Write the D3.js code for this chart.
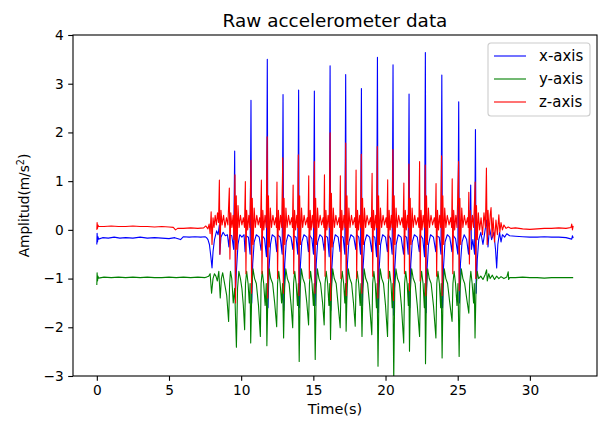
<!DOCTYPE html>
<html>
<head>
<meta charset="utf-8">
<script src="https://cdn.jsdelivr.net/npm/d3@7/dist/d3.min.js"></script>
<style>
  body { margin: 0; background: #fff; }
  svg { font-family: "DejaVu Sans", sans-serif; }
</style>
</head>
<body>
<svg id="chart" width="603" height="423"></svg>
<script>
// series labels and colours
var seriesNames = ["x-axis", "y-axis", "z-axis"];
var seriesColors = ["#0000ff", "#008000", "#ff0000"];

var xTicks = [0, 5, 10, 15, 20, 25, 30];
var yTicks = [-3, -2, -1, 0, 1, 2, 3, 4];

// [time (s), amplitude]
var xAxisData = [
  [0,-0.3],[0.02,-0.07],[0.05,-0.25],[0.08,-0.14],[0.12,-0.19],[0.4,-0.16],[0.8,-0.17],[1.2,-0.15],[1.6,-0.17],[2,-0.16],
  [2.5,-0.17],[3,-0.15],[3.5,-0.17],[4,-0.16],[4.5,-0.17],[5,-0.18],[5.4,-0.16],[5.8,-0.2],[6.0,-0.14],[6.4,-0.15],
  [6.8,-0.14],[7.2,-0.15],[7.5,-0.14],[7.6,-0.16],
  [7.7,-0.2],[7.8,-0.3],[7.9,-0.55],[7.98,-0.78],[8.05,-0.45],[8.15,-0.2],[8.3,-0.02],[8.4,-0.1],[8.49,0.1],[8.52,-0.5],
  [8.6,-0.15],[8.75,-0.05],[8.9,-0.12],[9.05,-0.1],[9.15,-0.35],[9.2,-0.1],[9.35,-0.12],[9.48,-0.4],[9.55,1.62],[9.6,-1.3],
  [9.68,-0.8],[9.78,-0.3],[9.9,-0.1],[10.05,-0.15],[10.2,-0.1],[10.27,-0.45],[10.33,-0.12],[10.5,-0.15],[10.62,-0.5],[10.68,2.66],
  [10.73,-1.5],[10.8,-0.7],[10.9,-0.25],[11.05,-0.1],[11.25,-0.15],[11.38,-0.42],[11.45,-0.12],[11.62,-0.18],[11.75,-0.55],[11.81,3.5],
  [11.86,-1.6],[11.93,-0.8],[12.03,-0.3],[12.15,-0.1],[12.35,-0.15],[12.46,-0.45],[12.52,-0.1],[12.7,-0.15],[12.84,-0.5],[12.9,2.78],
  [12.95,-1.65],[13.02,-0.7],[13.12,-0.25],[13.25,-0.1],[13.45,-0.15],[13.58,-0.4],[13.64,-0.12],[13.8,-0.15],[13.92,-0.5],[13.98,2.87],
  [14.03,-1.6],[14.1,-0.75],[14.2,-0.25],[14.35,-0.1],[14.55,-0.15],[14.66,-0.45],[14.72,-0.1],[14.9,-0.18],[15.01,-0.5],[15.07,2.85],
  [15.12,-1.55],[15.2,-0.7],[15.3,-0.25],[15.45,-0.1],[15.62,-0.15],[15.75,-0.42],[15.8,-0.12],[15.98,-0.15],[16.1,-0.55],[16.16,3.37],
  [16.21,-1.65],[16.28,-0.8],[16.38,-0.3],[16.52,-0.1],[16.72,-0.15],[16.85,-0.45],[16.9,-0.12],[17.06,-0.15],[17.18,-0.5],[17.24,3.19],
  [17.29,-1.5],[17.36,-0.7],[17.46,-0.25],[17.6,-0.1],[17.8,-0.15],[17.94,-0.4],[17.99,-0.1],[18.15,-0.15],[18.27,-0.5],[18.33,2.9],
  [18.38,-1.55],[18.45,-0.75],[18.55,-0.25],[18.7,-0.1],[18.9,-0.15],[19.05,-0.45],[19.1,-0.12],[19.26,-0.15],[19.38,-0.55],[19.44,3.54],
  [19.49,-1.7],[19.56,-0.8],[19.66,-0.3],[19.8,-0.1],[20.0,-0.15],[20.13,-0.45],[20.18,-0.1],[20.35,-0.18],[20.46,-0.5],[20.52,3.39],
  [20.57,-1.75],[20.64,-0.8],[20.74,-0.3],[20.88,-0.1],[21.08,-0.15],[21.25,-0.5],[21.3,-0.12],[21.46,-0.15],[21.57,-0.5],[21.63,2.79],
  [21.68,-1.6],[21.75,-0.7],[21.85,-0.25],[22.0,-0.1],[22.2,-0.15],[22.34,-0.45],[22.4,-0.1],[22.58,-0.18],[22.7,-0.55],[22.76,3.64],
  [22.81,-1.7],[22.88,-0.8],[22.98,-0.3],[23.12,-0.1],[23.32,-0.15],[23.48,-0.45],[23.53,-0.12],[23.72,-0.15],[23.84,-0.5],[23.9,3.18],
  [23.95,-1.6],[24.02,-0.75],[24.12,-0.25],[24.28,-0.1],[24.45,-0.15],[24.6,-0.45],[24.65,-0.1],[24.85,-0.18],[25.01,-0.5],[25.07,2.63],
  [25.12,-1.5],[25.19,-0.7],[25.3,-0.25],[25.45,-0.1],[25.62,-0.2],[25.75,-0.5],[25.82,-0.1],[25.9,0.92],[25.95,-0.4],[26.05,-0.2],
  [26.17,-0.5],[26.23,2.06],[26.28,-1.3],[26.36,-0.6],[26.46,-0.2],[26.6,-0.05],[26.75,-0.3],[26.9,0.0],[27.0,0.2],[27.1,-0.35],
  [27.2,0.05],[27.35,-0.2],[27.5,-0.05],[27.62,-0.4],[27.7,-0.78],[27.78,-0.3],[27.9,-0.05],[28.0,-0.25],[28.1,-0.1],[28.25,-0.15],
  [28.4,-0.08],[28.6,-0.12],[29,-0.13],[29.5,-0.14],[30,-0.15],[30.5,-0.15],[31,-0.14],[31.5,-0.15],[32,-0.15],[32.5,-0.16],
  [32.9,-0.19],[32.95,-0.12],[33,-0.17]
];

var yAxisData = [
  [0,-1.13],[0.02,-0.88],[0.05,-1.05],[0.08,-0.95],[0.12,-0.99],[0.5,-0.97],[1,-0.98],[1.5,-0.97],[2,-0.98],[2.5,-0.97],
  [3,-0.98],[3.5,-0.97],[4,-0.98],[4.5,-0.98],[5,-0.97],[5.5,-0.98],[6,-0.97],[6.5,-0.98],[7,-0.97],[7.5,-0.98],[7.6,-0.97],
  [7.75,-0.95],[7.85,-0.9],[7.95,-1.3],[8.05,-1.0],[8.15,-0.9],[8.25,-0.95],[8.35,-1.05],[8.45,-0.85],[8.55,-1.4],[8.63,-1.0],
  [8.72,-0.88],[8.85,-1.1],[9.0,-1.35],[9.13,-1.88],[9.2,-1.1],[9.26,-0.85],[9.35,-1.0],[9.45,-1.5],[9.55,-1.2],[9.67,-2.41],
  [9.75,-1.2],[9.84,-0.85],[9.95,-1.0],[10.05,-1.2],[10.15,-1.55],[10.24,-2.05],[10.3,-1.1],[10.38,-0.85],[10.48,-1.1],[10.56,-1.5],
  [10.62,-1.1],[10.66,-2.32],[10.74,-1.2],[10.82,-0.8],[10.93,-1.0],[11.05,-1.1],[11.2,-1.55],[11.33,-2.19],[11.38,-1.1],[11.46,-0.85],
  [11.56,-1.1],[11.66,-1.55],[11.74,-1.1],[11.78,-2.38],[11.86,-1.2],[11.94,-0.8],[12.05,-1.0],[12.18,-1.1],[12.32,-1.5],[12.46,-1.99],
  [12.52,-1.1],[12.6,-0.85],[12.7,-1.1],[12.8,-1.5],[12.87,-1.1],[12.94,-2.22],[13.01,-1.2],[13.09,-0.8],[13.2,-1.0],[13.32,-1.1],
  [13.46,-1.55],[13.57,-2.01],[13.63,-1.1],[13.71,-0.85],[13.81,-1.1],[13.9,-1.55],[13.96,-1.1],[14.02,-2.7],[14.09,-1.2],[14.17,-0.8],
  [14.28,-1.0],[14.4,-1.1],[14.55,-1.5],[14.67,-1.95],[14.73,-1.1],[14.81,-0.85],[14.91,-1.1],[15.0,-1.55],[15.06,-1.1],[15.13,-2.66],
  [15.2,-1.2],[15.28,-0.8],[15.39,-1.0],[15.5,-1.1],[15.64,-1.5],[15.75,-1.95],[15.81,-1.1],[15.89,-0.85],[15.99,-1.1],[16.08,-1.55],
  [16.14,-1.1],[16.19,-2.25],[16.26,-1.2],[16.34,-0.8],[16.45,-1.0],[16.58,-1.1],[16.72,-1.55],[16.86,-2.01],[16.92,-1.1],[17.0,-0.85],
  [17.1,-1.1],[17.18,-1.5],[17.23,-1.1],[17.27,-2.08],[17.34,-1.2],[17.42,-0.8],[17.53,-1.0],[17.65,-1.1],[17.78,-1.5],[17.9,-1.98],
  [17.96,-1.1],[18.04,-0.85],[18.14,-1.1],[18.24,-1.55],[18.3,-1.1],[18.37,-2.19],[18.44,-1.2],[18.52,-0.8],[18.63,-1.0],[18.76,-1.1],
  [18.9,-1.55],[19.05,-2.15],[19.11,-1.1],[19.19,-0.85],[19.29,-1.1],[19.37,-1.6],[19.42,-1.1],[19.48,-2.8],[19.55,-1.2],[19.63,-0.8],
  [19.74,-1.0],[19.86,-1.1],[20.0,-1.55],[20.14,-2.19],[20.2,-1.1],[20.28,-0.85],[20.38,-1.1],[20.46,-1.6],[20.51,-1.1],[20.57,-3.1],
  [20.64,-1.2],[20.72,-0.8],[20.83,-1.0],[20.96,-1.1],[21.1,-1.55],[21.26,-2.32],[21.32,-1.1],[21.4,-0.85],[21.5,-1.1],[21.58,-1.55],
  [21.62,-1.1],[21.66,-2.49],[21.73,-1.2],[21.81,-0.8],[21.92,-1.0],[22.05,-1.1],[22.2,-1.55],[22.36,-2.19],[22.42,-1.1],[22.5,-0.85],
  [22.6,-1.1],[22.69,-1.6],[22.73,-1.1],[22.77,-2.75],[22.84,-1.2],[22.92,-0.8],[23.03,-1.0],[23.16,-1.1],[23.32,-1.55],[23.49,-2.22],
  [23.55,-1.1],[23.63,-0.85],[23.73,-1.1],[23.82,-1.6],[23.86,-1.1],[23.92,-2.63],[23.99,-1.2],[24.07,-0.8],[24.18,-1.0],[24.3,-1.1],
  [24.45,-1.5],[24.61,-1.88],[24.67,-1.1],[24.75,-0.85],[24.85,-1.1],[24.95,-1.55],[25.02,-1.1],[25.1,-2.6],[25.17,-1.2],[25.25,-0.8],
  [25.36,-1.0],[25.48,-1.1],[25.62,-1.4],[25.77,-1.71],[25.83,-1.1],[25.91,-0.85],[26.0,-1.1],[26.1,-1.5],[26.15,-1.1],[26.2,-2.22],
  [26.27,-1.2],[26.35,-0.85],[26.45,-1.0],[26.6,-0.95],[26.75,-1.02],[26.9,-0.92],[27.0,-0.82],[27.05,-1.05],[27.15,-0.9],[27.25,-1.0],
  [27.4,-0.93],[27.55,-1.02],[27.7,-0.95],[27.85,-1.0],[28.0,-0.96],[28.2,-1.0],[28.4,-0.97],[28.5,-0.86],[28.53,-1.02],[28.6,-0.98],
  [29,-0.98],[29.5,-0.97],[30,-0.98],[30.5,-0.98],[31,-0.99],[31.5,-0.98],[32,-0.98],[32.5,-0.98],[33,-0.98]
];

var zAxisData = [
  [0,0.0],[0.02,0.15],[0.05,0.03],[0.08,0.1],[0.12,0.07],[0.5,0.07],[1,0.08],[1.5,0.07],[2,0.07],[2.5,0.08],
  [3,0.07],[3.5,0.07],[4,0.06],[4.5,0.07],[5,0.06],[5.3,0.05],[5.45,0.0],[5.6,0.03],[6,0.03],[6.5,0.04],
  [7,0.03],[7.4,0.04],[7.55,0.08],[7.6,0.06],
  [7.7,0.02],[7.78,0.12],[7.85,-0.08],[7.92,0.37],[7.98,-0.3],[8.05,0.25],[8.12,0.05],[8.2,0.3],[8.28,0.1],[8.36,0.35],
  [8.43,0.15],[8.49,1.02],[8.53,-0.5],[8.6,0.4],[8.68,0.1],[8.78,0.3],[8.88,0.05],[8.98,0.25],[9.08,0.1],[9.18,0.86],
  [9.22,-0.6],[9.28,0.35],[9.36,0.05],[9.44,0.3],[9.5,-0.2],[9.57,1.13],[9.61,-1.5],[9.66,0.7],[9.72,-0.4],[9.78,0.5],
  [9.86,0.05],[9.95,0.3],[10.05,0.1],[10.15,0.25],[10.23,0.05],[10.29,0.99],[10.33,-0.9],[10.38,0.4],[10.45,0.0],[10.53,0.3],
  [10.6,0.05],[10.68,1.43],[10.72,-1.3],[10.77,0.65],[10.83,-0.3],[10.9,0.45],[10.98,0.05],[11.08,0.3],[11.18,0.1],[11.28,0.25],
  [11.34,0.05],[11.4,1.02],[11.44,-0.9],[11.5,0.4],[11.57,0.0],[11.65,0.3],[11.73,0.05],[11.8,1.91],[11.84,-1.4],[11.89,0.7],
  [11.95,-0.35],[12.02,0.45],[12.1,0.05],[12.2,0.3],[12.3,0.1],[12.4,0.25],[12.44,0.05],[12.48,0.98],[12.52,-1.0],[12.58,0.4],
  [12.65,0.0],[12.73,0.3],[12.81,0.05],[12.88,1.48],[12.92,-1.3],[12.97,0.65],[13.03,-0.3],[13.1,0.45],[13.18,0.05],[13.28,0.3],
  [13.38,0.1],[13.5,0.25],[13.55,0.05],[13.6,0.92],[13.64,-0.9],[13.7,0.4],[13.77,0.0],[13.85,0.3],[13.91,0.05],[13.96,1.54],
  [14.0,-1.35],[14.05,0.7],[14.11,-0.3],[14.18,0.45],[14.26,0.05],[14.36,0.3],[14.46,0.1],[14.58,0.25],[14.63,0.05],[14.68,1.11],
  [14.72,-1.0],[14.78,0.4],[14.85,0.0],[14.93,0.3],[15.0,0.05],[15.07,1.4],[15.11,-1.3],[15.16,0.65],[15.22,-0.3],[15.29,0.45],
  [15.37,0.05],[15.47,0.3],[15.57,0.1],[15.68,0.25],[15.73,0.05],[15.77,1.13],[15.81,-0.95],[15.87,0.4],[15.94,0.0],[16.02,0.3],
  [16.1,0.05],[16.16,1.99],[16.2,-1.45],[16.25,0.75],[16.31,-0.35],[16.38,0.45],[16.46,0.05],[16.56,0.3],[16.66,0.1],[16.78,0.25],
  [16.83,0.05],[16.87,1.11],[16.91,-1.0],[16.97,0.4],[17.04,0.0],[17.12,0.3],[17.19,0.05],[17.24,1.78],[17.28,-1.35],[17.33,0.7],
  [17.39,-0.3],[17.46,0.45],[17.54,0.05],[17.64,0.3],[17.74,0.1],[17.86,0.25],[17.92,0.05],[17.96,1.23],[18.0,-1.0],[18.06,0.4],
  [18.13,0.0],[18.21,0.3],[18.28,0.05],[18.32,1.55],[18.36,-1.3],[18.41,0.65],[18.47,-0.3],[18.54,0.45],[18.62,0.05],[18.72,0.3],
  [18.84,0.1],[18.96,0.25],[19.02,0.05],[19.07,1.16],[19.11,-0.95],[19.17,0.4],[19.24,0.0],[19.32,0.3],[19.38,0.05],[19.43,1.71],
  [19.47,-1.4],[19.52,0.7],[19.58,-0.3],[19.65,0.45],[19.73,0.05],[19.83,0.3],[19.93,0.1],[20.04,0.25],[20.1,0.05],[20.15,1.03],
  [20.19,-1.0],[20.25,0.4],[20.32,0.0],[20.4,0.3],[20.46,0.05],[20.51,1.65],[20.55,-1.45],[20.6,0.7],[20.66,-0.3],[20.73,0.45],
  [20.81,0.05],[20.91,0.3],[21.02,0.1],[21.14,0.25],[21.22,0.05],[21.27,0.96],[21.31,-0.9],[21.37,0.4],[21.44,0.0],[21.52,0.3],
  [21.58,0.05],[21.62,1.35],[21.66,-1.25],[21.71,0.65],[21.77,-0.3],[21.84,0.45],[21.92,0.05],[22.02,0.3],[22.12,0.1],[22.24,0.25],
  [22.31,0.05],[22.36,1.4],[22.4,-1.05],[22.46,0.4],[22.53,0.0],[22.61,0.3],[22.69,0.05],[22.75,1.33],[22.79,-1.35],[22.84,0.7],
  [22.9,-0.3],[22.97,0.45],[23.05,0.05],[23.15,0.3],[23.26,0.1],[23.38,0.25],[23.45,0.05],[23.5,0.95],[23.54,-0.95],[23.6,0.4],
  [23.67,0.0],[23.75,0.3],[23.82,0.05],[23.88,1.52],[23.92,-1.35],[23.97,0.7],[24.03,-0.3],[24.1,0.45],[24.18,0.05],[24.28,0.3],
  [24.4,0.1],[24.52,0.25],[24.58,0.05],[24.62,1.05],[24.66,-0.9],[24.72,0.4],[24.79,0.0],[24.87,0.3],[24.95,0.05],[25.06,1.4],
  [25.1,-1.25],[25.15,0.65],[25.21,-0.3],[25.28,0.45],[25.36,0.05],[25.46,0.3],[25.57,0.1],[25.68,0.25],[25.73,0.05],[25.77,0.77],
  [25.81,-0.7],[25.87,0.4],[25.94,0.0],[26.02,0.3],[26.1,0.05],[26.21,0.98],[26.25,-1.0],[26.3,0.5],[26.36,-0.2],[26.43,0.35],
  [26.52,0.0],[26.62,0.25],[26.72,-0.1],[26.82,0.35],[26.92,0.05],[26.99,1.27],[27.04,-0.3],[27.1,0.4],[27.18,-0.1],[27.25,0.3],
  [27.31,0.46],[27.38,-0.15],[27.45,0.25],[27.55,-0.25],[27.65,0.2],[27.75,-0.1],[27.85,0.31],[27.92,-0.05],[28.0,0.15],[28.1,0.0],
  [28.2,0.1],[28.35,0.03],[28.5,0.06],[28.7,0.03],[29,0.04],[29.5,0.02],[30,0.01],[30.5,0.02],[31,0.03],[31.5,0.03],
  [32,0.04],[32.5,0.03],[32.85,0.05],[32.9,0.12],[32.95,0.0],[33,0.08]
];

var allSeries = [xAxisData, yAxisData, zAxisData];

var svg = d3.select("#chart");
var margin = {left: 73, right: 6, top: 35, bottom: 47};
var width = 603 - margin.left - margin.right;
var height = 423 - margin.top - margin.bottom;

var x = d3.scaleLinear().domain([-1.65, 34.65]).range([0, width]);
var y = d3.scaleLinear().domain([-3, 4]).range([height, 0]);

var g = svg.append("g").attr("transform", "translate(" + margin.left + "," + margin.top + ")");

g.append("clipPath").attr("id", "plotclip")
  .append("rect").attr("width", width).attr("height", height);

var line = d3.line()
  .x(function(d) { return x(d[0]); })
  .y(function(d) { return y(d[1]); });

var plot = g.append("g").attr("clip-path", "url(#plotclip)");
allSeries.forEach(function(data, i) {
  plot.append("path")
    .datum(data)
    .attr("fill", "none")
    .attr("stroke", seriesColors[i])
    .attr("stroke-width", 1.1)
    .attr("stroke-linejoin", "round")
    .attr("d", line);
});

// axes, matplotlib look
var xAxis = g.append("g").attr("transform", "translate(0," + height + ")")
  .call(d3.axisBottom(x).tickValues(xTicks).tickSize(4.8).tickPadding(4.5).tickFormat(d3.format("d")));
var yAxis = g.append("g")
  .call(d3.axisLeft(y).tickValues(yTicks).tickSize(4.8).tickPadding(4.5)
    .tickFormat(function(d) { return d < 0 ? "\u2212" + Math.abs(d) : d; }));

[xAxis, yAxis].forEach(function(a) {
  a.select(".domain").remove();
  a.selectAll(".tick line").attr("stroke", "#000").attr("stroke-width", 1.1);
  a.selectAll(".tick text").attr("fill", "#000").style("font-size", "13.7px").style("font-family", "DejaVu Sans");
});

g.append("rect")
  .attr("width", width).attr("height", height)
  .attr("fill", "none").attr("stroke", "#000").attr("stroke-width", 1.1);

// title and labels
svg.append("text")
  .attr("x", margin.left + width / 2).attr("y", 27)
  .attr("text-anchor", "middle")
  .style("font-size", "18.4px")
  .text("Raw accelerometer data");

svg.append("text")
  .attr("x", margin.left + width / 2).attr("y", 414)
  .attr("text-anchor", "middle")
  .style("font-size", "14.5px")
  .text("Time(s)");

var ylab = svg.append("text")
  .attr("transform", "translate(29," + (margin.top + height / 2) + ") rotate(-90)")
  .attr("text-anchor", "middle")
  .style("font-size", "13.7px");
ylab.append("tspan").text("Amplitud(m/s");
ylab.append("tspan").attr("dy", -5).style("font-size", "9.6px").text("2");
ylab.append("tspan").attr("dy", 5).text(")");

// legend
var legend = svg.append("g").attr("transform", "translate(488,43)");
legend.append("rect")
  .attr("width", 102).attr("height", 73).attr("rx", 3)
  .attr("fill", "#fff").attr("fill-opacity", 0.8)
  .attr("stroke", "#cccccc").attr("stroke-width", 1.1);

seriesNames.forEach(function(name, i) {
  var row = legend.append("g").attr("transform", "translate(0," + (13 + i * 23) + ")");
  row.append("line")
    .attr("x1", 6).attr("x2", 38)
    .attr("stroke", seriesColors[i]).attr("stroke-width", 1.1);
  row.append("text")
    .attr("x", 51).attr("dy", "0.35em")
    .style("font-size", "15px")
    .text(name);
});
</script>
</body>
</html>
